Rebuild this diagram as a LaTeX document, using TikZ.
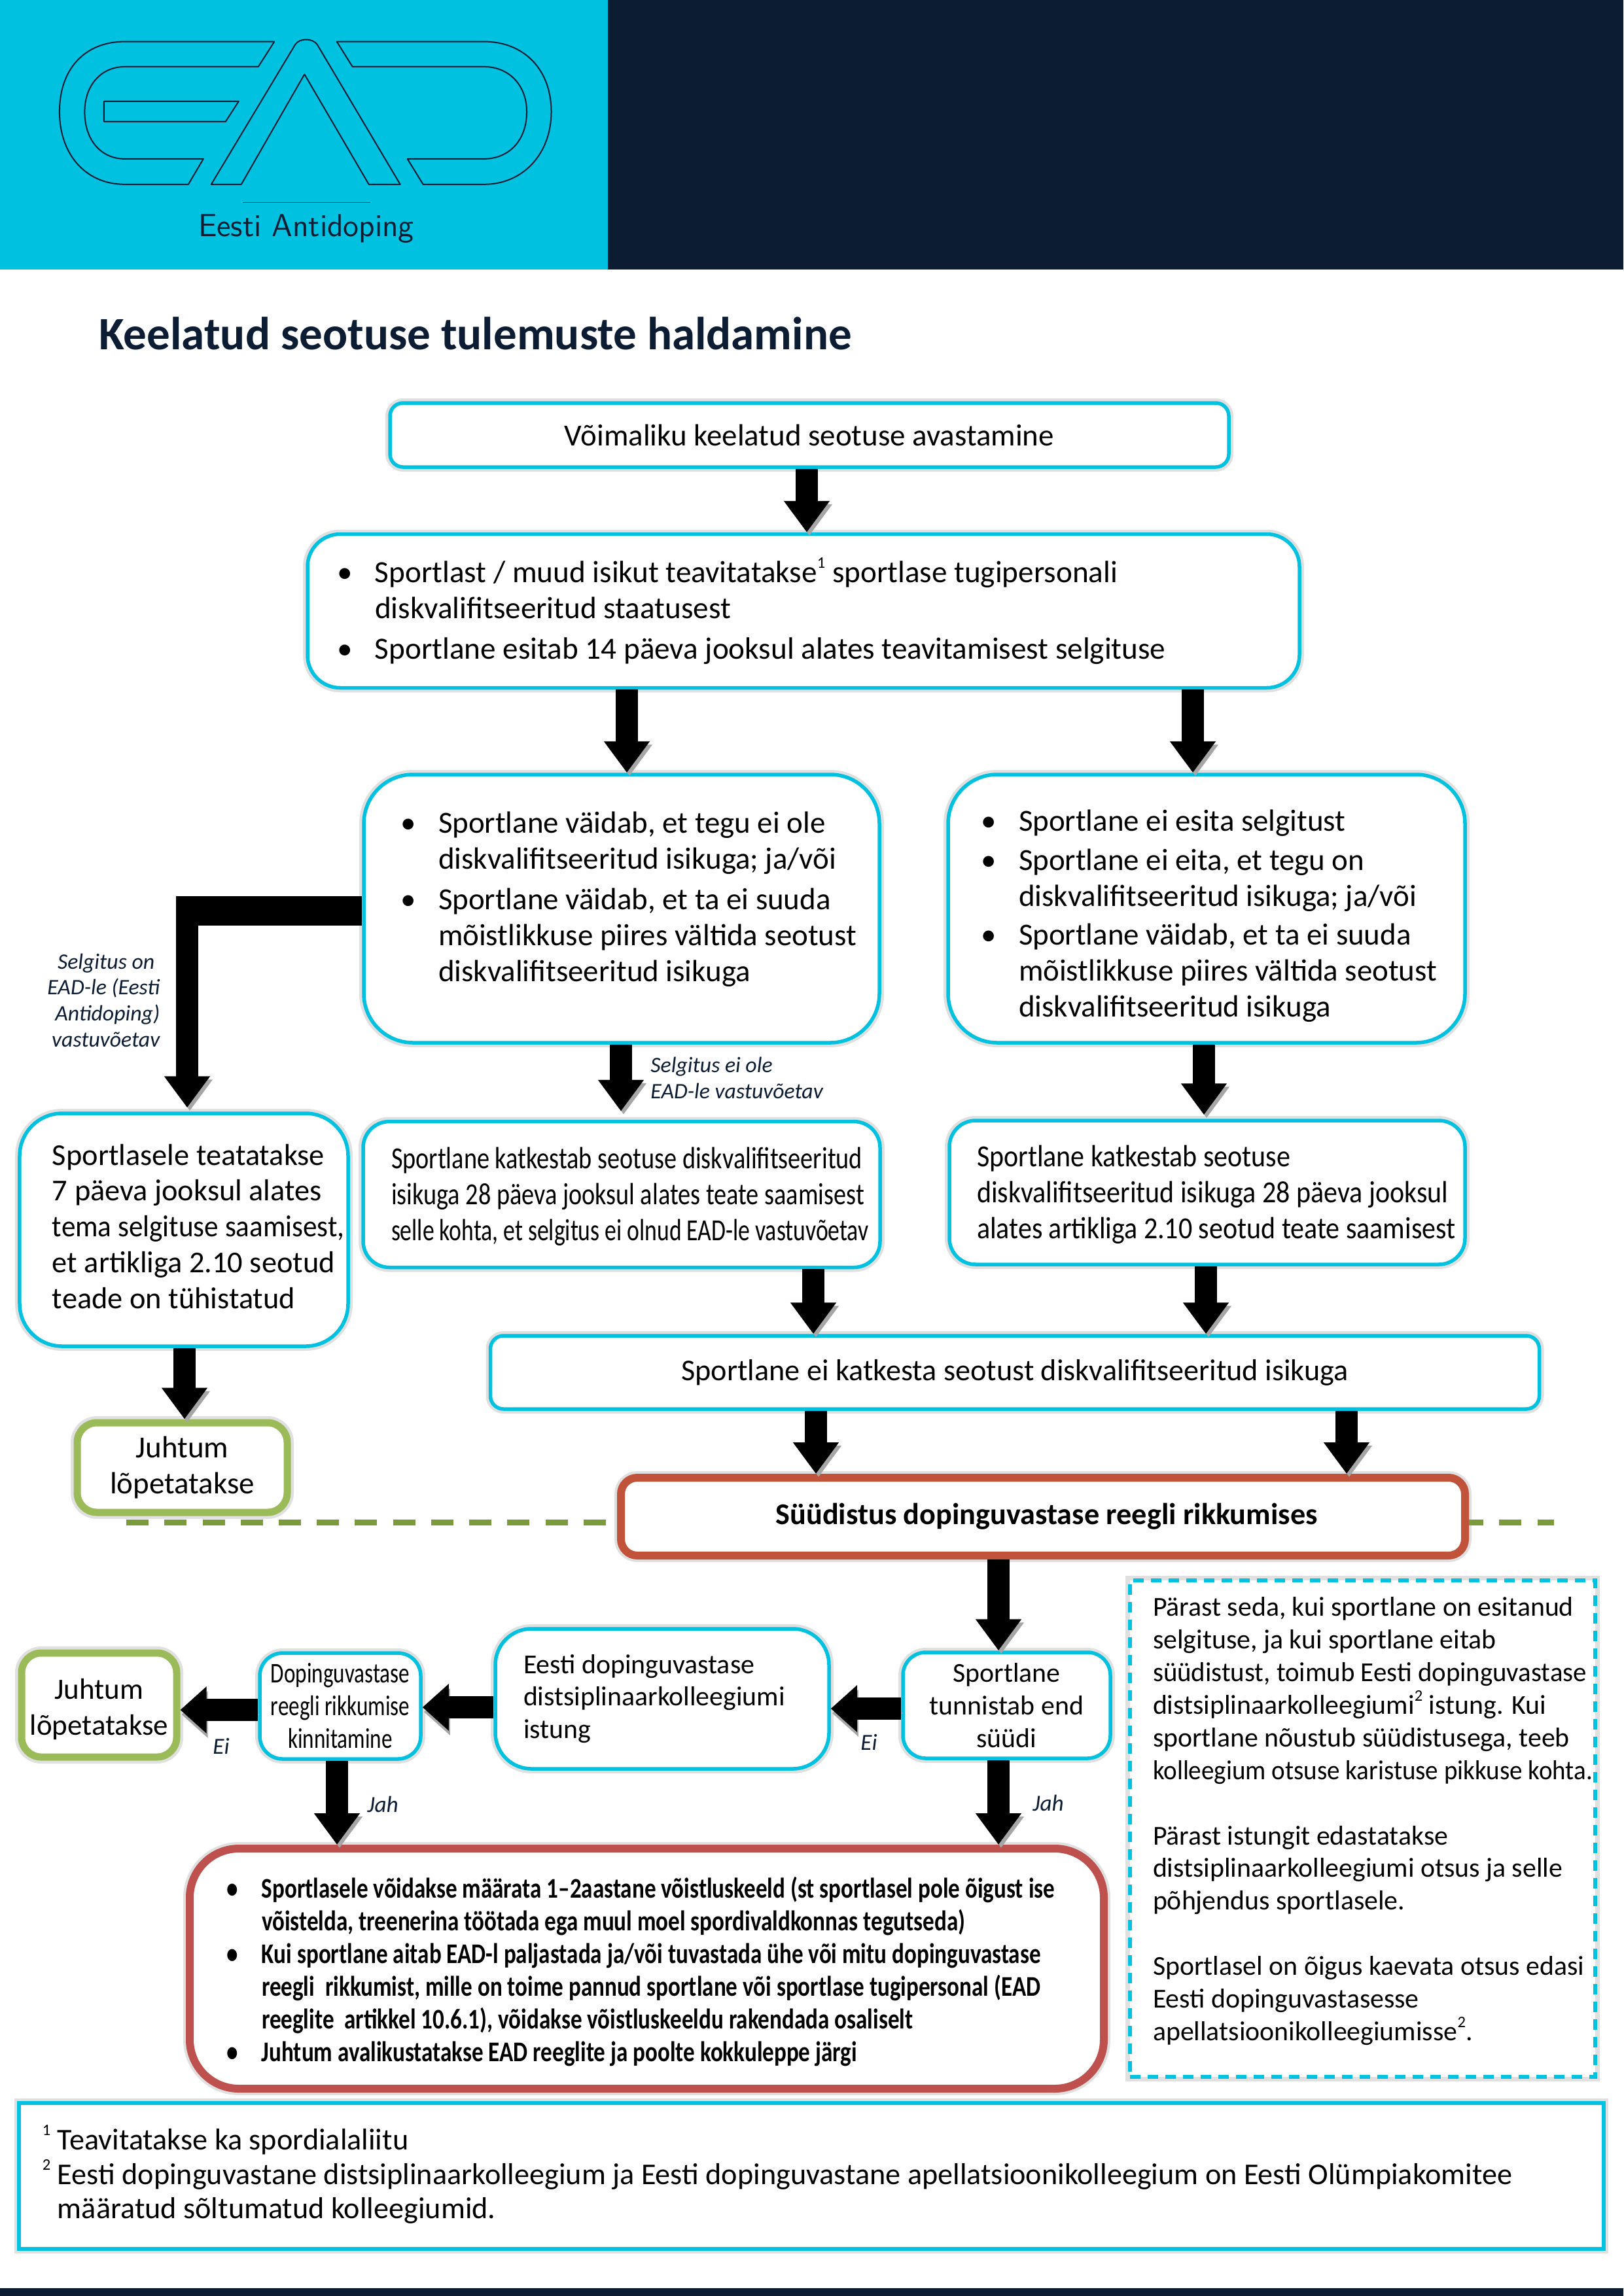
\documentclass[tikz,border=0pt]{standalone}
\usepackage{fontspec}
\setmainfont{Carlito}
\newfontfamily\condA[FakeStretch=0.815]{Carlito}
\newfontfamily\condB[FakeStretch=0.895]{Carlito}
\newfontfamily\condC[FakeStretch=0.805,BoldFont={Carlito Bold}]{Carlito}
\newfontfamily\condD[FakeStretch=0.76]{Carlito}
\usepackage{tikz}
\usetikzlibrary{arrows.meta,shadows}
\definecolor{eadcyan}{HTML}{00C1E0}
\definecolor{eadnavy}{HTML}{0C1C33}
\definecolor{eadgreen}{HTML}{9BBB59}
\definecolor{eaddash}{HTML}{7A9A3C}
\definecolor{eadrust}{HTML}{C0533A}
\definecolor{eadred}{HTML}{BE504E}
\tikzstyle{softshadow} = [drop shadow={shadow xshift=.03cm, shadow yshift=-.06cm, fill=black, opacity=.3}, preaction={draw=black!12, solid, line width=.14cm}]
\tikzstyle{box} = [rectangle, draw=eadcyan, fill=white, line width=.055cm, align=flush left, softshadow, font=\fontsize{13.35}{15.6}\selectfont]
\tikzstyle{leftbox} = [box, inner xsep=.1cm]
\tikzstyle{lmargin} = [execute at begin node={\leftskip=#1\rightskip=-.5cm plus 1fil\relax}]
\tikzstyle{greenbox} = [box, draw=eadgreen, line width=.11cm, preaction={draw=black!12, line width=.2cm}, align=center, rounded corners=.3cm]
\tikzstyle{redbox} = [leftbox, line width=.12cm, preaction={draw=black!12, line width=.2cm}]
\tikzstyle{arrow} = [line width=.34cm, black, -{Triangle[width=.67cm,length=.48cm]}, preaction={draw=gray!70, transform canvas={xshift=.04cm,yshift=-.05cm}}]
\tikzstyle{sidearrow} = [line width=.34cm, black, -{Triangle[width=.69cm,length=.40cm]}, preaction={draw=gray!70, transform canvas={xshift=.02cm,yshift=-.07cm}}]
\tikzstyle{note} = [text=eadnavy, font=\fontsize{9.6}{11.3}\selectfont\itshape, align=left]
\tikzstyle{shortnote} = [note, font=\fontsize{10}{11.3}\selectfont\itshape]
\tikzstyle{dashline} = [eaddash, line width=.09cm, dash pattern=on .34cm off .2425cm]
\tikzstyle{logo} = [eadnavy, line width=.02cm, line join=round]
\newcommand{\bpt}{\makebox[.58cm][l]{\textbullet}}
\newcommand{\bsp}{\hspace*{.58cm}}
\newcommand{\cpt}{\makebox[.54cm][l]{\textbullet}}
\newcommand{\csp}{\hspace*{.54cm}}
\newcommand{\fnm}[1]{\raisebox{.48em}{\fontsize{7}{7}\selectfont #1}}
\newcommand{\squeeze}[2]{{\addfontfeature{FakeStretch=#1}#2}}
\begin{document}
\begin{tikzpicture}
        \useasboundingbox (0,0) rectangle (24.81,-35.1);
        \fill[eadcyan] (0,0) rectangle (9.29,-4.12);
        \fill[eadnavy] (9.29,0) rectangle (24.81,-4.12);
        \fill[eadnavy] (0,-34.98) rectangle (24.81,-35.1);

        \begin{scope}[x=.01cm, y=-.01cm]
        \draw[logo] (419.6,63.6) -- (191,63.6) .. controls (130,63.6) and (91,105) .. (91,171) .. controls (91,235) and (130,282) .. (191,282) -- (288,282) -- (311,243) -- (191,243) .. controls (155,243) and (129.5,215) .. (129.5,171) .. controls (129.5,130) and (155,102) .. (191,102) -- (395,102) -- cycle;
        \draw[logo] (159,155) -- (365,155) -- (345,186) -- (159,186) -- cycle;
        \draw[logo] (323,282) -- (369,282) -- (465.6,113.6) -- (564,282) -- (612,282) -- (485,68) .. controls (478,58) and (458,58) .. (451.5,68) -- cycle;
        \draw[logo] (515,63.6) -- (740,63.6) .. controls (800,63.6) and (843,105) .. (843,171) .. controls (843,235) and (800,282) .. (740,282) -- (647,282) -- (623,243) -- (740,243) .. controls (778,243) and (805.5,215) .. (805.5,171) .. controls (805.5,130) and (778,102) .. (740,102) -- (539,102) -- cycle;
        \draw[eadnavy!70!eadcyan, line width=.01cm] (371,310) -- (566,310);
        \end{scope}
        \node (logotext) [xshift=4.68cm, yshift=-3.5cm, text=eadnavy, font=\sffamily\fontsize{13.9}{16}\selectfont] {Eesti Antidoping};

        \node (title) [anchor=west, xshift=1.39cm, yshift=-5.1cm, text=eadnavy, font=\fontsize{20.2}{24}\selectfont\bfseries] {Keelatud seotuse tulemuste haldamine};

        \node (1) [box, xshift=12.37cm, yshift=-6.65cm, minimum width=12.82cm, minimum height=.98cm, rounded corners=.2cm, align=center] {Võimaliku keelatud seotuse avastamine};
        \node (2) [leftbox, lmargin=.35cm, xshift=12.28cm, yshift=-9.34cm, text width=14.96cm, minimum height=2.35cm, rounded corners=.5cm, font=\fontsize{13.42}{15.6}\selectfont] {\bpt Sportlast / muud isikut teavitatakse\fnm{1} sportlase tugipersonali\\ \bsp diskvalifitseeritud staatusest\\[.07cm] \bpt Sportlane esitab 14 päeva jooksul alates teavitamisest selgituse};
        \node (3) [leftbox, lmargin=.46cm, xshift=9.5cm, yshift=-13.89cm, text width=7.68cm, minimum height=4.1cm, rounded corners=.75cm] {\bpt Sportlane väidab, et tegu ei ole\\ \bsp diskvalifitseeritud isikuga; ja/või\\[.07cm] \bpt Sportlane väidab, et ta ei suuda\\ \bsp mõistlikkuse piires vältida seotust\\ \bsp diskvalifitseeritud isikuga\\[-.18cm] \mbox{}};
        \node (4) [leftbox, lmargin=.40cm, xshift=18.44cm, yshift=-13.89cm, text width=7.7cm, minimum height=4.1cm, rounded corners=.75cm] {\rule{0pt}{.55cm}\bpt Sportlane ei esita selgitust\\[.05cm] \bpt Sportlane ei eita, et tegu on\\ \bsp diskvalifitseeritud isikuga; ja/või\\[.05cm] \bpt Sportlane väidab, et ta ei suuda\\ \bsp mõistlikkuse piires vältida seotust\\ \bsp diskvalifitseeritud isikuga};
        \node (5) [leftbox, lmargin=.4cm, xshift=2.81cm, yshift=-18.8cm, text width=4.82cm, minimum height=3.56cm, rounded corners=.65cm, font=\fontsize{13.2}{15.6}\selectfont] {Sportlasele teatatakse\\ 7 päeva jooksul alates\\ \squeeze{.93}{tema selgituse saamisest,}\\ et artikliga 2.10 seotud\\ teade on tühistatud\\[-.44cm]\mbox{}};
        \node (6) [leftbox, lmargin=.33cm, xshift=9.5cm, yshift=-18.26cm, text width=7.7cm, minimum height=2.23cm, rounded corners=.4cm] {\condA \rule{0pt}{.39cm}Sportlane katkestab seotuse diskvalifitseeritud\\ isikuga 28 päeva jooksul alates teate saamisest\\ {\condD selle kohta, et selgitus ei olnud EAD-le vastuvõetav}};
        \node (7) [leftbox, lmargin=.32cm, xshift=18.45cm, yshift=-18.23cm, text width=7.68cm, minimum height=2.2cm, rounded corners=.4cm] {\condB \rule{0pt}{.39cm}Sportlane katkestab seotuse\\ diskvalifitseeritud isikuga 28 päeva jooksul\\ alates artikliga 2.10 seotud teate saamisest};
        \node (8) [box, xshift=15.51cm, yshift=-20.98cm, minimum width=16.03cm, minimum height=1.12cm, rounded corners=.2cm, align=center, font=\fontsize{13.15}{15.6}\selectfont] {Sportlane ei katkesta seotust diskvalifitseeritud isikuga};
        \node (9) [greenbox, xshift=2.785cm, yshift=-22.435cm, minimum width=3.21cm, minimum height=1.37cm] {Juhtum\\ lõpetatakse};
        \node (10) [redbox, draw=eadrust, xshift=15.94cm, yshift=-23.185cm, minimum width=12.9cm, minimum height=1.19cm, rounded corners=.25cm, align=center, font=\fontsize{13.15}{15.6}\selectfont\bfseries] {\hspace*{.11cm}Süüdistus dopinguvastase reegli rikkumises};
        \node (11) [box, xshift=15.385cm, yshift=-26.07cm, minimum width=3.17cm, minimum height=1.62cm, rounded corners=.35cm, align=center, font=\fontsize{11.9}{14.2}\selectfont] {Sportlane\\ tunnistab end\\ süüdi};
        \node (12) [leftbox, lmargin=.33cm, xshift=10.12cm, yshift=-25.97cm, text width=4.9cm, minimum height=2.14cm, rounded corners=.55cm, font=\fontsize{11.9}{14}\selectfont] {Eesti dopinguvastase\\ distsiplinaarkolleegiumi\\ istung};
        \node (13) [box, xshift=5.2cm, yshift=-26.08cm, minimum width=2.46cm, minimum height=1.62cm, rounded corners=.35cm, align=center, inner xsep=0pt, font=\fontsize{12.4}{14.2}\selectfont\condD] {Dopinguvastase\\ reegli rikkumise\\ kinnitamine};
        \node (14) [greenbox, xshift=1.515cm, yshift=-26.065cm, minimum width=2.37cm, minimum height=1.59cm, inner xsep=0pt, font=\fontsize{12.8}{15.6}\selectfont] {\rule{0pt}{.45cm}Juhtum\\ lõpetatakse};
        \node (15) [redbox, draw=eadred, lmargin=.46cm, xshift=9.885cm, yshift=-30.095cm, text width=13.77cm, minimum height=3.67cm, rounded corners=.75cm, font=\fontsize{12.4}{14.2}\selectfont\condC\bfseries] {\rule{0pt}{.41cm}\cpt Sportlasele võidakse määrata 1–2aastane võistluskeeld (st sportlasel pole õigust ise\\ \csp võistelda, treenerina töötada ega muul moel spordivaldkonnas tegutseda)\\ \cpt Kui sportlane aitab EAD-l paljastada ja/või tuvastada ühe või mitu dopinguvastase\\ \csp reegli\ \ rikkumist, mille on toime pannud sportlane või sportlase tugipersonal (EAD\\ \csp reeglite\ \ artikkel 10.6.1), võidakse võistluskeeldu rakendada osaliselt\\ \cpt Juhtum avalikustatakse EAD reeglite ja poolte kokkuleppe järgi};
        \node (16) [leftbox, lmargin=.25cm, dash pattern=on .16cm off .11cm, xshift=20.825cm, yshift=-27.955cm, text width=6.91cm, minimum height=7.59cm, font=\fontsize{11.9}{14.2}\selectfont] {Pärast seda, kui sportlane on esitanud\\ selgituse, ja kui sportlane eitab\\ \squeeze{.977}{süüdistust, toimub Eesti dopinguvastase}\\ distsiplinaarkolleegiumi\fnm{2} istung. Kui\\ sportlane nõustub süüdistusega, teeb\\ \squeeze{.934}{kolleegium otsuse karistuse pikkuse kohta.}\\[.5cm] Pärast istungit edastatakse\\ distsiplinaarkolleegiumi otsus ja selle\\ põhjendus sportlasele.\\[.5cm] Sportlasel on õigus kaevata otsus edasi\\ Eesti dopinguvastasesse\\ apellatsioonikolleegiumisse\fnm{2}.\\[-.2cm]\mbox{}};
        \node (17) [leftbox, lmargin=.26cm, xshift=12.4cm, yshift=-33.265cm, text width=24.02cm, minimum height=2.23cm, font=\fontsize{13.15}{15}\selectfont] {\makebox[.23cm][l]{\fnm{1}}Teavitatakse ka spordialaliitu\\ \makebox[.23cm][l]{\fnm{2}}Eesti dopinguvastane distsiplinaarkolleegium ja Eesti dopinguvastane apellatsioonikolleegium on Eesti Olümpiakomitee\\ \hspace*{.23cm}määratud sõltumatud kolleegiumid.\\[-.4cm]\mbox{}};

        \coordinate (elbow) at (2.86,-13.7);
        \coordinate (dashleft) at (1.93,-23.27);
        \coordinate (dashright) at (23.75,-23.27);

        \draw[dashline] (dashleft) -- (dashleft -| 10.west);
        \draw[dashline, dash phase=.12cm] (dashright -| 10.east) -- (dashright);

        \draw[arrow] (1.south -| 12.33,0) -- (2.north -| 12.33,0);
        \draw[arrow] (2.south -| 9.58,0) -- (3.north -| 9.58,0);
        \draw[arrow] (2.south -| 18.23,0) -- (4.north -| 18.23,0);
        \draw[line width=.45cm, preaction={draw=gray!70, transform canvas={xshift=.0cm,yshift=-.09cm}}] ([yshift=-.03cm]3.west) -- ([yshift=-.03cm]3.west -| elbow);
        \draw[arrow] (elbow) -- ([yshift=.06cm]5.north -| elbow);
        \draw[arrow] (3.south -| 9.49,0) -- ([yshift=.13cm]6.north -| 9.49,0);
        \draw[arrow] (4.south -| 18.4,0) -- ([yshift=.06cm]7.north -| 18.4,0);
        \draw[arrow] (6.south -| 12.43,0) -- (8.north -| 12.43,0);
        \draw[arrow] (7.south -| 18.43,0) -- (8.north -| 18.43,0);
        \draw[arrow] (5.south -| 2.82,0) -- (9.north -| 2.82,0);
        \draw[arrow] (8.south -| 12.47,0) -- (10.north -| 12.47,0);
        \draw[arrow] (8.south -| 20.58,0) -- (10.north -| 20.58,0);
        \draw[arrow] (10.south -| 15.26,0) -- (11.north -| 15.26,0);
        \draw[arrow] (11.south -| 15.26,0) -- (15.north -| 15.26,0);
        \draw[arrow] (13.south -| 5.15,0) -- (15.north -| 5.15,0);
        \draw[sidearrow] ([yshift=-.05cm]11.west) -- ([yshift=-.05cm]11.west -| 12.east);
        \draw[sidearrow] ([yshift=-.13cm]12.west) -- ([yshift=-.13cm]12.west -| 13.east);
        \draw[sidearrow] ([yshift=-.06cm]13.west) -- ([yshift=-.06cm]13.west -| 14.east);

        \node (noteA) [note, align=right, anchor=east, xshift=2.567cm, yshift=-15.29cm] {Selgitus on\hspace*{.08cm}\\ EAD-le (Eesti\hspace*{.08cm}\\ Antidoping)\hspace*{.08cm}\\ vastuvõetav};
        \node (noteB) [note, anchor=west, xshift=9.82cm, yshift=-16.48cm] {Selgitus ei ole\\ EAD-le vastuvõetav};
        \node (noteC) [shortnote, xshift=3.38cm, yshift=-26.69cm] {Ei};
        \node (noteD) [shortnote, xshift=5.85cm, yshift=-27.58cm] {Jah};
        \node (noteE) [shortnote, xshift=13.28cm, yshift=-26.63cm] {Ei};
        \node (noteF) [shortnote, xshift=16.02cm, yshift=-27.56cm] {Jah};
\end{tikzpicture}
\end{document}
